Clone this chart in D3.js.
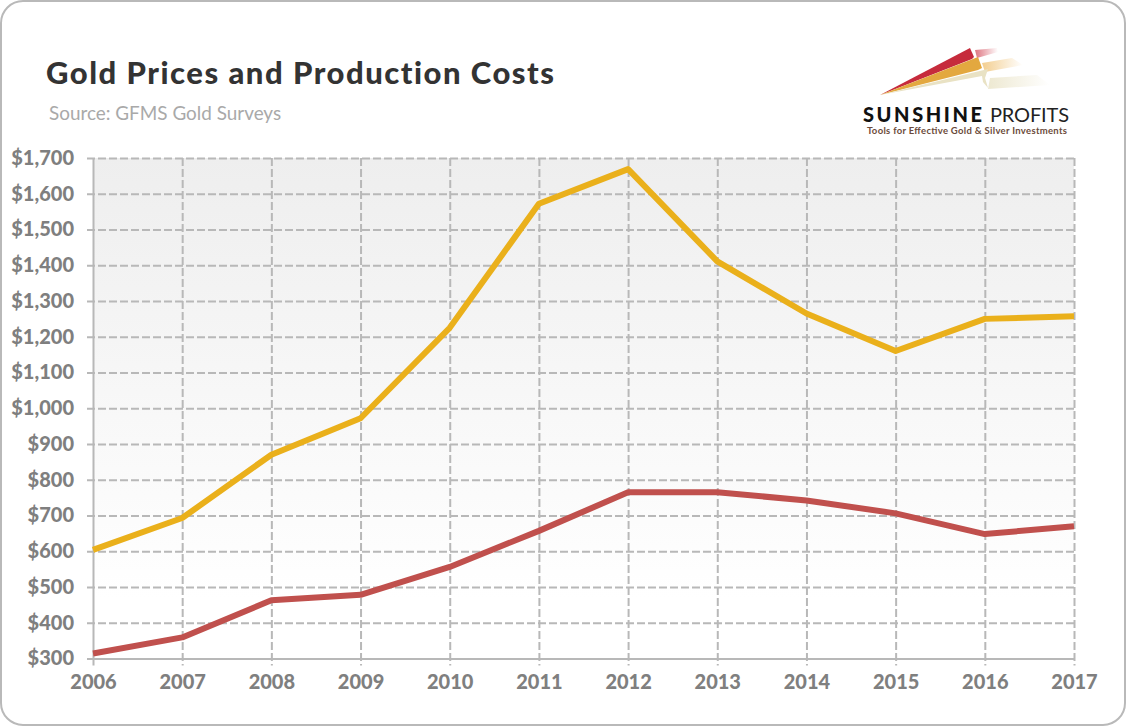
<!DOCTYPE html>
<html>
<head>
<meta charset="utf-8">
<script src="https://cdn.jsdelivr.net/npm/d3@7"></script>
<style>
html, body { margin: 0; padding: 0; background: #fff; }
svg { display: block; }
</style>
</head>
<body>
<script>
var years = [2006, 2007, 2008, 2009, 2010, 2011, 2012, 2013, 2014, 2015, 2016, 2017];
var goldPrice = [604, 693, 870, 972, 1225, 1572, 1669, 1411, 1265, 1160, 1250, 1257];
var productionCost = [314, 359, 463, 478, 556, 657, 765, 765, 742, 706, 648, 670];
var yTicks = [300, 400, 500, 600, 700, 800, 900, 1000, 1100, 1200, 1300, 1400, 1500, 1600, 1700];

var left = 93, right = 1074, top_ = 158, bottom = 658.5;

var canvas = d3.select("body")
              .append("svg")
              .attr("width", 1127)
              .attr("height", 727);

var grad = canvas.append("defs").append("linearGradient")
            .attr("id", "plotbg")
            .attr("x1", 0).attr("y1", 0).attr("x2", 0).attr("y2", 1);
grad.append("stop").attr("offset", "0%").attr("stop-color", "#eeeeee");
grad.append("stop").attr("offset", "88%").attr("stop-color", "#ffffff");

// card frame
canvas.append("rect")
  .attr("x", 1).attr("y", 1)
  .attr("width", 1124).attr("height", 724)
  .attr("rx", 22)
  .attr("fill", "#fff")
  .attr("stroke", "#b9b9b9")
  .attr("stroke-width", 2);

var x = d3.scaleLinear().domain([2006, 2017]).range([left, right]);
var y = d3.scaleLinear().domain([300, 1700]).range([bottom, top_]);

canvas.append("rect")
  .attr("x", left).attr("y", top_)
  .attr("width", right - left).attr("height", bottom - top_)
  .attr("fill", "url(#plotbg)");

// horizontal grid + labels
var yAxis = d3.axisLeft(y)
  .tickValues(yTicks)
  .tickSize(right - left + 6)
  .tickPadding(13)
  .tickFormat(function(d) { return "$" + d3.format(",")(d); });

var yG = canvas.append("g")
  .attr("transform", "translate(" + right + ",0)")
  .call(yAxis);
yG.select(".domain").remove();
yG.selectAll("line")
  .attr("stroke", "#b8b8b8")
  .attr("stroke-width", 2)
  .attr("stroke-dasharray", function(d) { return d === 300 ? null : "8 3"; });

// vertical grid + labels
var xAxis = d3.axisBottom(x)
  .tickValues(years)
  .tickSize(bottom - top_ + 7)
  .tickPadding(9)
  .tickFormat(d3.format("d"));

var xG = canvas.append("g")
  .attr("transform", "translate(0," + top_ + ")")
  .call(xAxis);
xG.select(".domain").remove();
xG.selectAll("line")
  .attr("stroke", "#b8b8b8")
  .attr("stroke-width", 2)
  .attr("stroke-dasharray", function(d) { return d === 2006 ? null : "8 3"; });

canvas.selectAll("g.tick text")
  .attr("fill", "#7f7f7f")
  .style("font-family", "Lato")
  .style("font-weight", 900)
  .style("font-size", "20px");

var line = d3.line()
  .x(function(d, i) { return x(years[i]); })
  .y(function(d) { return y(d); });

canvas.append("path")
  .attr("d", line(goldPrice))
  .attr("fill", "none")
  .attr("stroke", "#eab01b")
  .attr("stroke-width", 6)
  .attr("stroke-linejoin", "round");

canvas.append("path")
  .attr("d", line(productionCost))
  .attr("fill", "none")
  .attr("stroke", "#c0504d")
  .attr("stroke-width", 6)
  .attr("stroke-linejoin", "round");

canvas.append("text")
  .attr("x", 46).attr("y", 84)
  .attr("fill", "#333333")
  .style("font-family", "Lato")
  .style("font-weight", 900)
  .style("font-size", "31px")
  .style("letter-spacing", "1.5px")
  .text("Gold Prices and Production Costs");

canvas.append("text")
  .attr("x", 49).attr("y", 120)
  .attr("fill", "#a9a9a9")
  .style("font-family", "Lato")
  .style("font-size", "18.9px")
  .text("Source: GFMS Gold Surveys");

// logo
var logo = canvas.append("g");
var fade = canvas.select("defs");
[["fadeRed", "#cf3a4a"], ["fadeGold", "#eeb960"], ["fadeTan", "#e6dfbe"]].forEach(function(f) {
  var g = fade.append("linearGradient").attr("id", f[0]);
  g.append("stop").attr("offset", "0%").attr("stop-color", f[1]).attr("stop-opacity", 0.7);
  g.append("stop").attr("offset", "100%").attr("stop-color", f[1]).attr("stop-opacity", 0);
});
logo.append("polygon").attr("points", "975,50 997,48 998,52 977,58").attr("fill", "url(#fadeRed)");
logo.append("polygon").attr("points", "982,63 1012,58 1023,65 985,72").attr("fill", "url(#fadeGold)");
logo.append("polygon").attr("points", "990,78 1037,75 1050,85 988,89").attr("fill", "url(#fadeTan)");
logo.append("polygon").attr("points", "880,95 970,48 974,57 972,59").attr("fill", "#c62b3c");
logo.append("polygon").attr("points", "880,95 978,57 982,68 978,70").attr("fill", "#e3a83f");
logo.append("polygon").attr("points", "880,95 988,69 985,78 988,88 983,82 982,76").attr("fill", "#e9e2c4");

logo.append("text")
  .attr("x", 863).attr("y", 122)
  .attr("fill", "#111")
  .style("font-family", "Lato")
  .style("font-weight", 900)
  .style("font-size", "20px")
  .attr("textLength", 119)
  .text("SUNSHINE");
logo.append("text")
  .attr("x", 990).attr("y", 122)
  .attr("fill", "#222")
  .style("font-family", "Lato")
  .style("font-size", "20px")
  .attr("textLength", 79)
  .text("PROFITS");
logo.append("text")
  .attr("x", 867).attr("y", 134)
  .attr("fill", "#6b4a3a")
  .style("font-family", "Lato")
  .style("font-weight", 700)
  .style("font-size", "9.5px")
  .attr("textLength", 200)
  .text("Tools for Effective Gold & Silver Investments");
</script>
</body>
</html>
